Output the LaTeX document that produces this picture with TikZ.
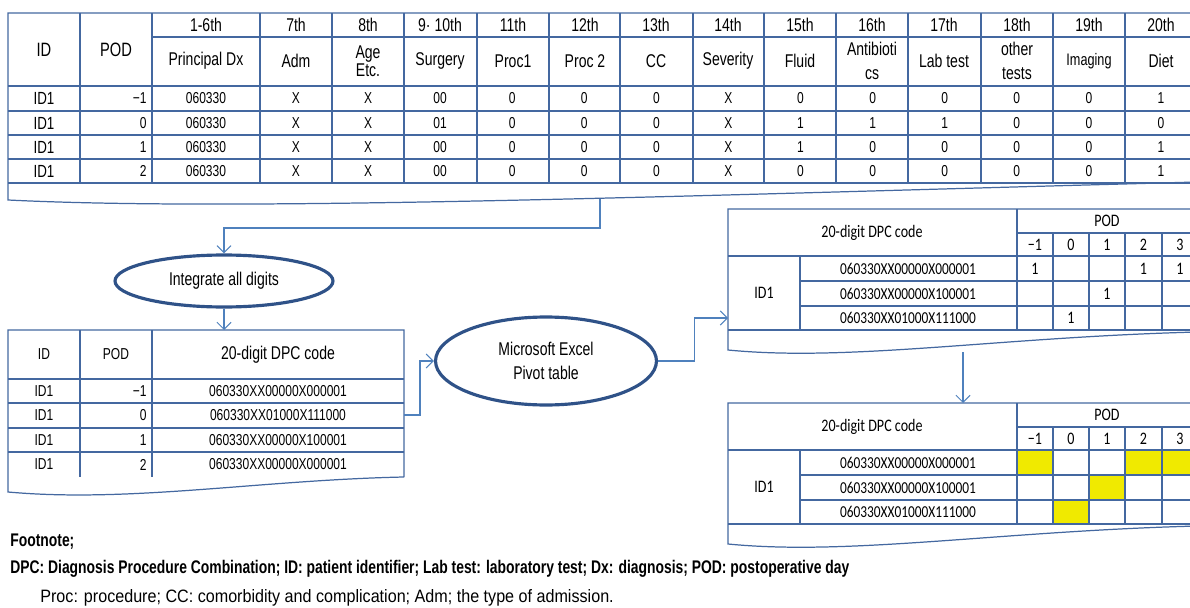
\documentclass[tikz,border=0pt]{standalone}
\usepackage{fontspec}
\setmainfont{Liberation Sans}[FakeStretch=0.76]
\newfontfamily\calfont{Carlito}[FakeStretch=0.8]
\newfontfamily\notefont{Liberation Sans}[FakeStretch=0.9]
\usetikzlibrary{arrows.meta,shapes.geometric}

\definecolor{gridblue}{HTML}{4468A0}
\definecolor{linkblue}{HTML}{4F81BD}
\definecolor{ovalblue}{HTML}{2F5288}
\definecolor{cellyellow}{HTML}{F0EA00}

\tikzset{
  tabline/.style={draw=gridblue, line width=0.7pt},
  link/.style={draw=linkblue, line width=0.6pt},
  linkarrow/.style={link, -{Straight Barb[length=4pt,width=8pt]}},
  oval/.style={ellipse, draw=ovalblue, line width=1.8pt, inner sep=0pt},
  hd/.style={font=\fontsize{10.5}{14}\selectfont, align=center, inner sep=0pt},
  cell/.style={font=\fontsize{9}{10}\selectfont, inner sep=0pt},
  cal/.style={font=\calfont\fontsize{10}{11}\selectfont, inner sep=0pt},
  foot/.style={anchor=west, inner sep=0pt, font=\bfseries\fontsize{10.4}{12}\selectfont},
}

\begin{document}
\begin{tikzpicture}[x=0.02cm,y=-0.02cm]
\useasboundingbox (0,0) rectangle (1190,608);
\clip (0,0) rectangle (1190,608);

% ---- top table: all digits of the DPC code
\draw[tabline] (1198,13) -- (8,13) -- (8,200) .. controls (250,212) and (700,195) .. (1198,182);
\draw[tabline] (152,37) -- (1198,37);
\foreach \y in {86,111,135,159,183}
  \draw[tabline] (8,\y) -- (1198,\y);
\foreach \x in {80,152,260,332,404,477,549,620,693,764,836,908,981,1053,1125}
  \draw[tabline] (\x,13) -- (\x,183);

\node[hd, font=\fontsize{11}{12}\selectfont] (hid) at (44,50) {ID};
\node[hd, font=\fontsize{11}{12}\selectfont] (hpod) at (116,50) {POD};
\foreach \x/\n/\l in {206/1-6th/Principal Dx, 296/7th/Adm, 368/8th/Age\\[-4pt]Etc.,
    440/9· 10th/Surgery, 513/11th/Proc1, 585/12th/Proc 2, 656/13th/CC,
    728/14th/Severity, 800/15th/Fluid, 872/16th/Antibioti\\cs, 944/17th/Lab test,
    1017/18th/other\\tests, 1089/19th/{\fontsize{9.5}{11}\selectfont Imaging}, 1161/20th/Diet} {
  \node[hd] (n\x) at (\x,25) {\n};
  \node[hd] (l\x) at (\x,61) {\l};
}

\coordinate (topout) at (600,199);
\foreach \r/\y/\p/\vals in {
    1/98.5/−1/{X,X,00,0,0,0,X,0,0,0,0,0,1},
    2/123/0/{X,X,01,0,0,0,X,1,1,1,0,0,0},
    3/147/1/{X,X,00,0,0,0,X,1,0,0,0,0,1},
    4/171/2/{X,X,00,0,0,0,X,0,0,0,0,0,1}} {
  \node[cell, font=\fontsize{10}{11}\selectfont] (id\r) at (44,\y) {ID1};
  \node[cell, anchor=east] (pod\r) at (147,\y) {\p};
  \node[cell] (dx\r) at (206,\y) {060330};
  \foreach \v [count=\i] in \vals
    \node[cell] (d\r-\i) at ({296+72.08*(\i-1)},\y) {\v};
}

% ---- integrate step
\node[oval, minimum width=4.36cm, minimum height=1.04cm, font=\fontsize{10.5}{12}\selectfont] (integ) at (224,281) {Integrate all digits};
\coordinate (bend1) at (600,228);
\draw[linkarrow] (topout) -- (bend1) -| (integ.north);

% ---- left table: 20-digit codes per day
\draw[tabline] (404,477) -- (404,330) -- (8,330) -- (8,492) .. controls (130,503) and (260,480) .. (404,477);
\foreach \y in {379,403,428,452}
  \draw[tabline] (8,\y) -- (404,\y);
\foreach \x in {80,152}
  \draw[tabline] (\x,330) -- (\x,477);
\node[cell] (lid) at (44,354) {ID};
\node[cell] (lpod) at (116,354) {POD};
\node[hd] (lcode) at (278,355) {20-digit DPC code};
\foreach \r/\y/\p/\c in {1/391/−1/060330XX00000X000001, 2/415.5/0/060330XX01000X111000,
    3/440/1/060330XX00000X100001, 4/464.5/2/060330XX00000X000001} {
  \node[cell] (lid\r) at (44,\y) {ID1};
  \node[cell, anchor=east] (lpod\r) at (147,\y) {\p};
  \node[cell] (lc\r) at (278,\y) {\c};
}
\coordinate (t2in) at (224,330);
\coordinate (t2out) at (404,415);
\draw[linkarrow] (integ.south) -- (t2in);

% ---- pivot step
\node[oval, minimum width=4.42cm, minimum height=1.76cm, align=center, font=\fontsize{10.5}{14}\selectfont] (pivot) at (546,361) {Microsoft Excel\\Pivot table};
\draw[linkarrow] (t2out) -- ++(16,0) |- (pivot.west);

% ---- right tables: codes by day
\foreach \t/\o in {r1/0,r2/194} {
  \begin{scope}[yshift=-\o*0.02cm]
  \ifnum\o>0
    \fill[cellyellow] (1017,256) rectangle (1053,281);
    \fill[cellyellow] (1125,256) rectangle (1198,281);
    \fill[cellyellow] (1089,281) rectangle (1125,306);
    \fill[cellyellow] (1053,306) rectangle (1089,330);
  \fi
  \draw[tabline] (1198,209) -- (728,209) -- (728,350) .. controls (850,362) and (1000,337) .. (1198,332);
  \draw[tabline] (1017,233) -- (1198,233);
  \draw[tabline] (728,256) -- (1198,256);
  \foreach \y in {281,306,330}
    \draw[tabline] (800,\y) -- (1198,\y);
  \draw[tabline] (728,330) -- (800,330);
  \draw[tabline] (800,256) -- (800,330);
  \draw[tabline] (1017,209) -- (1017,330);
  \foreach \x in {1053,1089,1125,1162}
    \draw[tabline] (\x,233) -- (\x,330);
  \node[cal] (\t-code) at (872,233) {20-digit DPC code};
  \node[cal] (\t-pod) at (1107,221) {POD};
  \foreach \x/\d in {1035/−1,1071/0,1107/1,1143.5/2,1180/3}
    \node[cal] (\t-d\d) at (\x,245) {\d};
  \node[cal] (\t-id) at (764,293) {ID1};
  \foreach \r/\y/\c in {1/268.5/060330XX00000X000001, 2/293.5/060330XX00000X100001, 3/318/060330XX01000X111000}
    \node[cal, font=\calfont\fontsize{9.5}{11}\selectfont] (\t-c\r) at (908,\y) {\c};
  \ifnum\o=0
    \foreach \x/\y [count=\i] in {1035/268.5,1143.5/268.5,1180/268.5,1107/293.5,1071/318}
      \node[cal] (\t-one\i) at (\x,\y) {1};
  \fi
  \end{scope}
}
\coordinate (r1in) at (728,318);
\coordinate (r1out) at (963,352);
\coordinate (r2in) at (963,403);
\draw[linkarrow] (pivot.east) -- ++(36,0) |- (r1in);
\draw[linkarrow] (r1out) -- (r2in);

% ---- footnote
\node[foot] (fn0) at (10,542) {Footnote;};
\node[foot] (fn1) at (10,569) {DPC: Diagnosis Procedure Combination; ID: patient identifier; Lab test: laboratory test; Dx: diagnosis; POD: postoperative day};
\node[foot, font=\notefont\fontsize{10.2}{12}\selectfont] (fn2) at (40,598) {Proc: procedure; CC: comorbidity and complication; Adm; the type of admission.};
\end{tikzpicture}
\end{document}
